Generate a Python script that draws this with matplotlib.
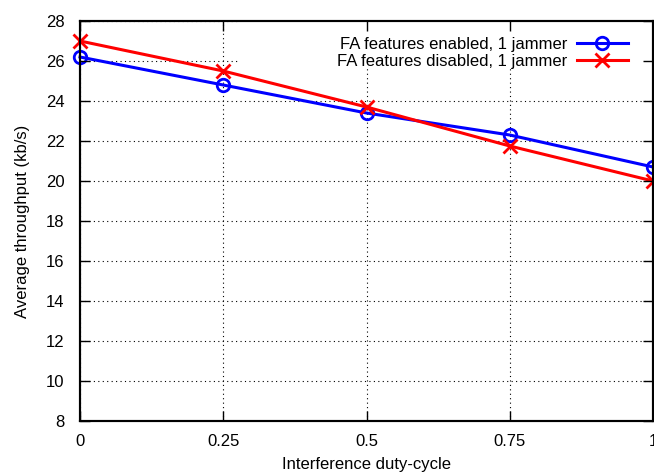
import matplotlib
matplotlib.use("Agg")
import matplotlib.pyplot as plt
from matplotlib.patches import Rectangle

plt.rcParams['font.family'] = ['Liberation Sans', 'DejaVu Sans']

# Data
duty_cycle = [0, 0.25, 0.5, 0.75, 1]
fa_enabled = [26.2, 24.8, 23.4, 22.3, 20.7]
fa_disabled = [27.0, 25.5, 23.7, 21.75, 20.0]
x_ticks = [0, 0.25, 0.5, 0.75, 1]
x_tick_labels = ['0', '0.25', '0.5', '0.75', '1']
y_ticks = list(range(8, 29, 2))

fs = 12
pos = [80 / 654, 51 / 472, 573 / 654, 400 / 472]

fig = plt.figure(figsize=(6.54, 4.72), dpi=100)
ax = fig.add_axes(pos)

ax.plot(duty_cycle, fa_enabled, color='blue', linewidth=2.2, marker='o',
        markersize=9, markerfacecolor='none', markeredgewidth=2,
        label='FA features enabled, 1 jammer', clip_on=False, zorder=3)
ax.plot(duty_cycle, fa_disabled, color='red', linewidth=2.2, marker='x',
        markersize=10, markeredgewidth=2,
        label='FA features disabled, 1 jammer', clip_on=False, zorder=3)

ax.set_xlim(0, 1)
ax.set_ylim(8, 28)
ax.set_xticks(x_ticks)
ax.set_xticklabels(x_tick_labels)
ax.set_yticks(y_ticks)
ax.tick_params(axis='both', length=0, labelsize=fs, colors='black')
ax.tick_params(axis='x', pad=9)
ax.tick_params(axis='y', pad=11)
ax.grid(True, color='black', linestyle=(0, (1, 3)), linewidth=0.8)
for s in ax.spines.values():
    s.set_linewidth(1.5)

# white key box hides the grid behind the legend, like gnuplot does
ax.add_patch(Rectangle((0.279, 0.8825), 0.721, 0.1175, transform=ax.transAxes,
                       facecolor='white', edgecolor='none', zorder=2))

ax.set_xlabel('Interference duty-cycle', fontsize=fs)
ax.set_ylabel('Average throughput (kb/s)', fontsize=fs)
ax.xaxis.set_label_coords(0.5, -0.089)
ax.yaxis.set_label_coords(-0.087, 0.5)

leg = ax.legend(loc='upper right', bbox_to_anchor=(0.956, 0.961),
                markerfirst=False, frameon=False, fontsize=fs,
                handlelength=3.05, borderpad=0, borderaxespad=0,
                labelspacing=0.16, handletextpad=0.6)
for t in leg.get_texts():
    t.set_ha('right')
leg._legend_box.align = 'right'
leg.set_zorder(4)

# inward ticks on all four sides, drawn over the key box
ax_t = fig.add_axes(pos, sharex=ax, sharey=ax)
ax_t.patch.set_visible(False)
ax_t.tick_params(direction='in', length=7, width=1, top=True, right=True,
                 labelbottom=False, labelleft=False)
for s in ax_t.spines.values():
    s.set_linewidth(1.5)

fig.savefig('out.png', dpi=100)
